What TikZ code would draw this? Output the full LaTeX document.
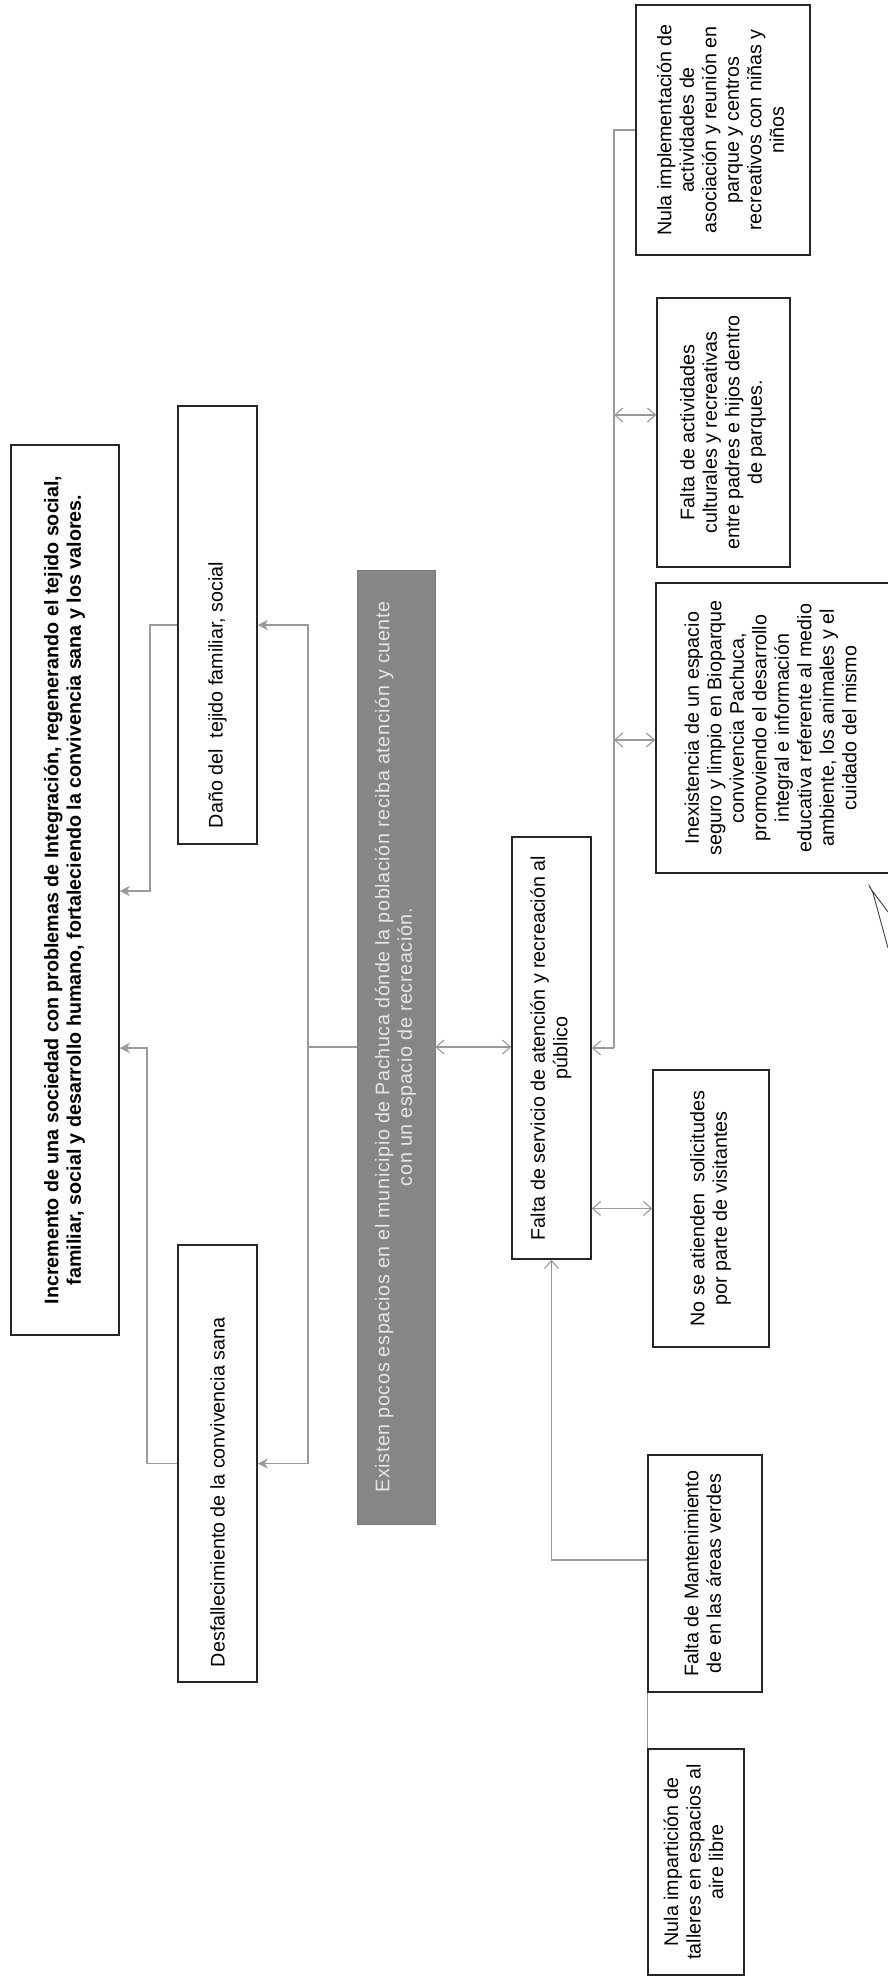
\documentclass[tikz,border=0pt]{standalone}
\usepackage{fontspec}
\setmainfont{Liberation Sans}
\usetikzlibrary{arrows.meta}
\definecolor{gbox}{HTML}{868686}
\definecolor{gtext}{HTML}{E6E6E6}
\definecolor{lnk}{HTML}{9A9A9A}
\newcommand{\rt}[1]{\rotatebox{90}{\begin{tabular}{@{}c@{}}#1\end{tabular}}}
\newcommand{\rtl}[3]{\rotatebox{90}{\makebox[#1][l]{\hspace{#2}#3}}}
\begin{document}
\begin{tikzpicture}[x=1pt,y=-1pt,
  box/.style={draw=black!85, line width=1.5pt, fill=white, inner sep=0pt, font=\fontsize{19.7}{22.5}\selectfont},
  gbx/.style={fill=gbox, draw=gbox!90!black, line width=0.5pt, inner sep=0pt, text=gtext, font=\fontsize{19.7}{22.5}\selectfont\addfontfeature{LetterSpace=3.2}},
  conn/.style={draw=lnk, line width=1.1pt},
  arrowin/.style={-{Stealth[length=10pt,width=10pt,inset=3pt]}},
  barbin/.style={-{Straight Barb[length=8pt,width=14pt]}},
  dbl/.style={{Straight Barb[length=8pt,width=14pt]}-{Straight Barb[length=8pt,width=14pt]}}
]
\useasboundingbox[fill=white] (0,0) rectangle (887,1978);

% effects
\node[box, minimum width=108pt, minimum height=890pt, font=\fontsize{19.7}{22.5}\selectfont\bfseries] (A) at (65,890)
  {\rt{Incremento de una sociedad con problemas de Integración, regenerando el tejido social,\\familiar, social y desarrollo humano, fortaleciendo la convivencia sana y los valores.}};
\node[box, minimum width=79pt, minimum height=438pt] (Dano) at (217.5,625)
  {\rtl{438pt}{16pt}{Daño del \ tejido familiar, social}};
\node[box, minimum width=79pt, minimum height=437pt] (B) at (217.5,1463.5)
  {\rtl{437pt}{15pt}{Desfallecimiento de la convivencia sana}};

% central problem
\node[gbx, minimum width=78pt, minimum height=954pt] (G) at (396,1047)
  {\rt{Existen pocos espacios en el municipio de Pachuca dónde la población reciba atención y cuente\\con un espacio de recreación.}};

% cause
\node[box, minimum width=79pt, minimum height=422pt] (S) at (551.5,1048)
  {\rt{Falta de servicio de atención y recreación al\\público}};

% sub-causes
\node[box, minimum width=116pt, minimum height=277pt] (NS) at (711,1208.5)
  {\rt{No se atienden \ solicitudes\\por parte de visitantes}};
\node[box, minimum width=114pt, minimum height=237pt] (M) at (705,1573.5)
  {\rt{Falta de Mantenimiento\\de en las áreas verdes}};
\node[box, minimum width=96pt, minimum height=226pt] (NI) at (696,1862)
  {\rt{Nula impartición de\\talleres en espacios al\\aire libre}};
\node[box, minimum width=234pt, minimum height=290pt] (I) at (773,728)
  {\rt{Inexistencia de un espacio\\seguro y limpio en Bioparque\\convivencia Pachuca,\\promoviendo el desarrollo\\integral e información\\educativa referente al medio\\ambiente, los animales y el\\cuidado del mismo}};
\node[box, minimum width=133pt, minimum height=269pt] (FA) at (723.5,432.5)
  {\rt{Falta de actividades\\culturales y recreativas\\entre padres e hijos dentro\\de parques.}};
\node[box, minimum width=174pt, minimum height=250pt] (NU) at (723,130)
  {\rt{Nula implementación de\\actividades de\\asociación y reunión en\\parque y centros\\recreativos con niñas y\\niños}};

% junction coordinates
\coordinate (d1) at (150,625);
\coordinate (d2) at (150,891);
\coordinate (b1) at (147,1463.5);
\coordinate (b2) at (147,1048);
\coordinate (gJ) at (308,1047);
\coordinate (rJ) at (614,1048);
\coordinate (fJ) at (614,415);
\coordinate (iJ) at (614,740);
\coordinate (mJ) at (600,1560);

% effects -> A
\draw[conn, arrowin] (Dano.west) -- (d1) -- (d2) -- (A.east |- d2);
\draw[conn, arrowin] (B.west) -- (b1) -- (b2) -- (A.east |- b2);

% central -> effects
\draw[conn] (G.west) -- (gJ);
\draw[conn, arrowin] (gJ) |- (Dano.east);
\draw[conn, arrowin] (gJ) |- (B.east);

% central <-> cause
\draw[conn, dbl] (G.east) -- (S.west |- G.east);

% right-hand branch
\draw[conn, barbin] (rJ) -- (S.east |- rJ);
\draw[conn] (rJ) |- (NU.west);
\draw[conn, dbl] (fJ) -- (FA.west |- fJ);
\draw[conn, dbl] (iJ) -- (I.west |- iJ);
\draw[conn, dbl] (S.east |- NS.west) -- (NS.west);

% lower branch
\draw[conn, barbin] (M.west |- mJ) -| (S.south);
\draw[conn] (NI.north west) -- (M.south west);

% pen mark
\draw[black!75, line width=0.9pt] (888,912) -- (871,889) .. controls (868,885) and (869,884) .. (873,893) -- (888,948);
\end{tikzpicture}
\end{document}
